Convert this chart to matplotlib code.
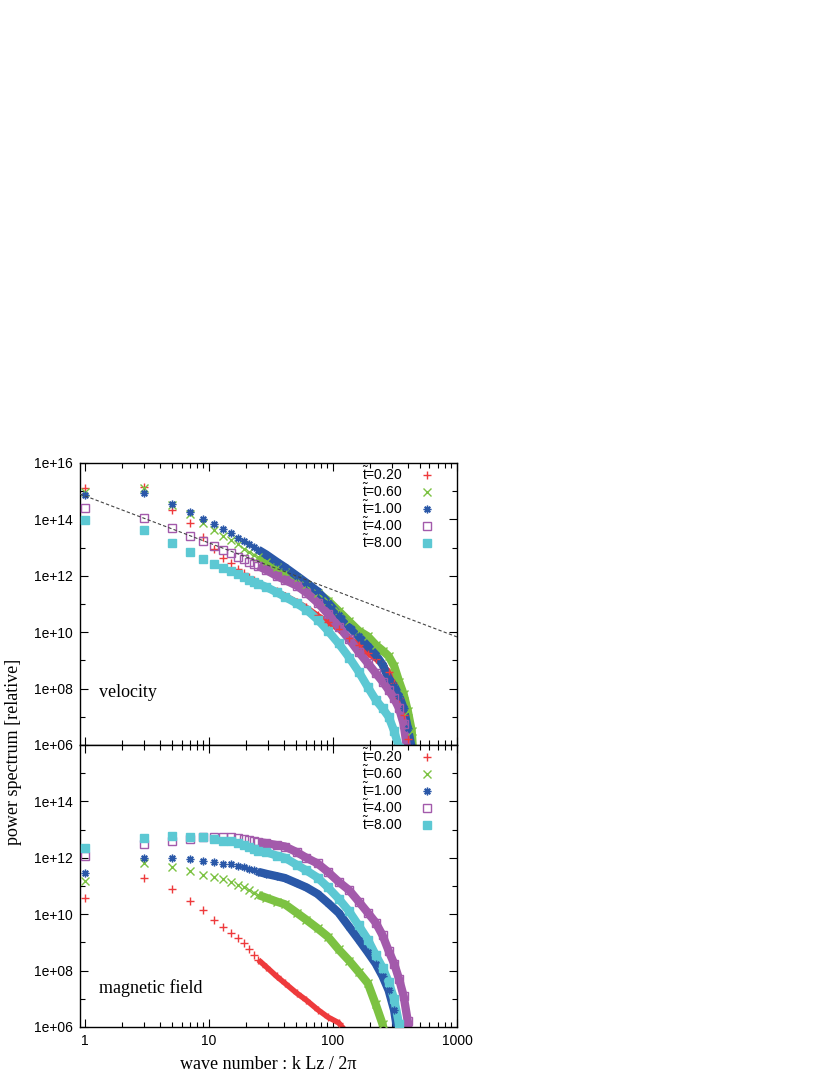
import numpy as np
import matplotlib
matplotlib.use("Agg")
import matplotlib.pyplot as plt
from matplotlib.ticker import FixedLocator, FuncFormatter, LogLocator, NullFormatter

# wave numbers (odd k)
k = [1, 3, 5, 7, 9, 11, 13, 15, 17, 19, 21, 23, 25, 29, 35, 41, 51, 61, 75, 91,
     111, 135, 161, 191, 221, 251, 281, 311, 341, 371, 401, 431, 461]

times = ["0.20", "0.60", "1.00", "4.00", "8.00"]

# ---- velocity: log10(power) ----
vel_020 = [15.11, 15.15, 14.33, 13.87, 13.38, 12.95, 12.63, 12.45, 12.24, 12.10, 11.96, 11.85, 11.75,
           11.62, 11.45, 11.30, 11.08, 10.88, 10.60, 10.35, 10.10, 9.80, 9.55, 9.25, 9.05, 8.85,
           8.60, 8.20, 7.65, 7.05, 6.20, 5.00, np.nan]
vel_060 = [14.97, 15.10, 14.50, 14.19, 13.87, 13.62, 13.41, 13.27, 13.13, 12.95, 12.84, 12.74, 12.65,
           12.50, 12.30, 12.15, 11.90, 11.68, 11.40, 11.12, 10.75, 10.38, 10.05, 9.85, 9.55, 9.35,
           9.15, 8.80, 8.25, 7.80, 7.20, 6.50, 4.50]
vel_100 = [14.87, 14.94, 14.55, 14.26, 14.01, 13.84, 13.66, 13.52, 13.34, 13.23, 13.13, 13.02, 12.92,
           12.75, 12.50, 12.30, 12.00, 11.75, 11.45, 11.05, 10.60, 10.20, 9.85, 9.50, 9.20, 8.85,
           8.35, 8.10, 7.75, 7.30, 6.60, 5.90, 4.50]
vel_400 = [14.40, 14.05, 13.70, 13.41, 13.23, 13.06, 12.91, 12.80, 12.67, 12.60, 12.49, 12.42, 12.35,
           12.20, 12.00, 11.85, 11.65, 11.40, 11.05, 10.65, 10.20, 9.75, 9.30, 8.90, 8.55, 8.25,
           7.95, 7.65, 7.30, 6.75, 5.70, 4.50, np.nan]
vel_800 = [13.98, 13.62, 13.16, 12.84, 12.60, 12.42, 12.28, 12.17, 12.06, 11.96, 11.85, 11.78, 11.72,
           11.60, 11.42, 11.25, 11.02, 10.80, 10.45, 10.05, 9.60, 9.10, 8.60, 8.05, 7.60, 7.30,
           7.00, 6.50, 5.90, 4.50, np.nan, np.nan, np.nan]

# ---- magnetic field: log10(power) ----
mag_020 = [10.57, 11.28, 10.89, 10.47, 10.15, 9.80, 9.55, 9.35, 9.15, 8.98, 8.77, 8.55, 8.38,
           8.13, 7.80, 7.55, 7.20, 6.95, 6.62, 6.35, 6.15, 5.70, np.nan, np.nan, np.nan, np.nan,
           np.nan, np.nan, np.nan, np.nan, np.nan, np.nan, np.nan]
mag_060 = [11.18, 11.82, 11.67, 11.53, 11.39, 11.32, 11.25, 11.14, 11.04, 10.96, 10.86, 10.75, 10.68,
           10.58, 10.45, 10.35, 10.05, 9.80, 9.50, 9.20, 8.75, 8.35, 7.95, 7.55, 6.80, 6.10,
           5.00, np.nan, np.nan, np.nan, np.nan, np.nan, np.nan]
mag_100 = [11.46, 11.99, 11.99, 11.96, 11.89, 11.85, 11.78, 11.78, 11.71, 11.67, 11.60, 11.57, 11.50,
           11.43, 11.35, 11.28, 11.10, 10.95, 10.72, 10.40, 10.05, 9.55, 9.10, 8.65, 8.25, 7.80,
           7.30, 6.60, 5.50, np.nan, np.nan, np.nan, np.nan]
mag_400 = [12.06, 12.49, 12.60, 12.67, 12.74, 12.74, 12.74, 12.74, 12.70, 12.67, 12.63, 12.60, 12.56,
           12.52, 12.45, 12.40, 12.20, 12.00, 11.80, 11.50, 11.15, 10.85, 10.45, 10.05, 9.70, 9.25,
           8.70, 8.25, 7.70, 7.10, 6.20, 4.50, np.nan]
mag_800 = [12.35, 12.70, 12.77, 12.74, 12.74, 12.67, 12.60, 12.60, 12.52, 12.45, 12.38, 12.31, 12.24,
           12.20, 12.08, 12.00, 11.75, 11.55, 11.30, 10.95, 10.55, 10.10, 9.60, 9.10, 8.55, 8.10,
           7.60, 7.00, 6.10, 4.50, np.nan, np.nan, np.nan]

# Kolmogorov reference line P = A k^(-5/3)
ref_amp = 6.8e14
ref_slope = -5.0 / 3.0

colors = ["#ee3a3c", "#7cc242", "#2a58a8", "#a35aab", "#5cc8d3"]
markers = ["+", "x", (8, 2, 0), "s", "s"]
fills = ["full", "full", "full", "none", "full"]
band_lw = [4.0, 6.0, 6.0, 6.0, 6.0]

plt.rcParams["font.family"] = ["Liberation Sans", "DejaVu Sans"]
plt.rcParams["mathtext.fontset"] = "custom"
plt.rcParams["mathtext.rm"] = "Liberation Sans"
plt.rcParams["mathtext.it"] = "Liberation Sans"


def style_axis(ax, show_xlabels, ylabels):
    ax.set_xscale("log")
    ax.set_yscale("log")
    ax.set_xlim(0.91, 1000)
    ax.set_ylim(1e6, 1e16)
    ax.yaxis.set_major_locator(FixedLocator([10.0 ** e for e in range(6, 17, 2)]))
    ax.yaxis.set_minor_locator(FixedLocator([10.0 ** e for e in range(7, 17, 2)]))
    ax.yaxis.set_minor_formatter(NullFormatter())
    ax.yaxis.set_major_formatter(FuncFormatter(
        lambda v, _: f"{v:.0e}" if round(np.log10(v)) in ylabels else ""))
    ax.xaxis.set_major_locator(FixedLocator([1, 10, 100, 1000]))
    ax.xaxis.set_minor_locator(LogLocator(base=10, subs=np.arange(2, 10)))
    ax.xaxis.set_minor_formatter(NullFormatter())
    if show_xlabels:
        ax.xaxis.set_major_formatter(FuncFormatter(lambda v, _: f"{v:g}"))
    else:
        ax.xaxis.set_major_formatter(NullFormatter())
    ax.tick_params(which="both", direction="in", top=True, right=True, labelsize=10, pad=5)
    ax.tick_params(which="major", length=6, width=0.8)
    ax.tick_params(which="minor", length=3.5, width=0.8)
    for s in ax.spines.values():
        s.set_linewidth(1.0)


def draw_panel(ax, series):
    kk = np.array(k, dtype=float)
    handles = []
    for vals, c, m, f, lw, t in zip(series, colors, markers, fills, band_lw, times):
        p = 10.0 ** np.array(vals, dtype=float)
        band = kk >= 25
        ax.plot(kk[band], p[band], "-", color=c, lw=lw, solid_capstyle="butt",
                solid_joinstyle="round", zorder=2)
        h, = ax.plot(kk, p, ls="none", marker=m, color=c, ms=5.5, mew=1.0,
                     fillstyle=f, zorder=3, label=r"$\tilde{\mathrm{t}}$=" + t)
        handles.append(h)
    ax.legend(handles=handles, loc="upper right", markerfirst=False, frameon=False,
              fontsize=10, labelspacing=-0.05, handlelength=1.2, handletextpad=1.2,
              borderaxespad=0.0, bbox_to_anchor=(0.958, 1.012))


def main():
    fig = plt.figure(figsize=(8.3, 10.75), dpi=100)
    W, H = 830.0, 1075.0
    ax1 = fig.add_axes([80 / W, 1 - 745 / H, 377 / W, 282 / H])
    ax2 = fig.add_axes([80 / W, 1 - 1027 / H, 377 / W, 282 / H])

    draw_panel(ax1, [vel_020, vel_060, vel_100, vel_400, vel_800])
    draw_panel(ax2, [mag_020, mag_060, mag_100, mag_400, mag_800])

    kr = np.array([0.91, 1000.0])
    ax1.plot(kr, ref_amp * kr ** ref_slope, "--", color="#444444", lw=0.8,
             dashes=(3, 2), zorder=4)

    style_axis(ax1, False, [6, 8, 10, 12, 14, 16])
    style_axis(ax2, True, [6, 8, 10, 12, 14])

    ax1.text(0.05, 0.17, "velocity", transform=ax1.transAxes, fontsize=13,
             family="Liberation Serif")
    ax2.text(0.05, 0.121, "magnetic field", transform=ax2.transAxes, fontsize=13,
             family="Liberation Serif")

    fig.text(13 / W, 1 - 752 / H, "power spectrum [relative]", rotation=90,
             ha="center", va="center", fontsize=13, family="Liberation Serif")
    ax2.set_xlabel("wave number : k Lz / 2π", fontsize=13, family="Liberation Serif",
                   labelpad=6)

    fig.savefig("out.png", dpi=100)


if __name__ == "__main__":
    main()
